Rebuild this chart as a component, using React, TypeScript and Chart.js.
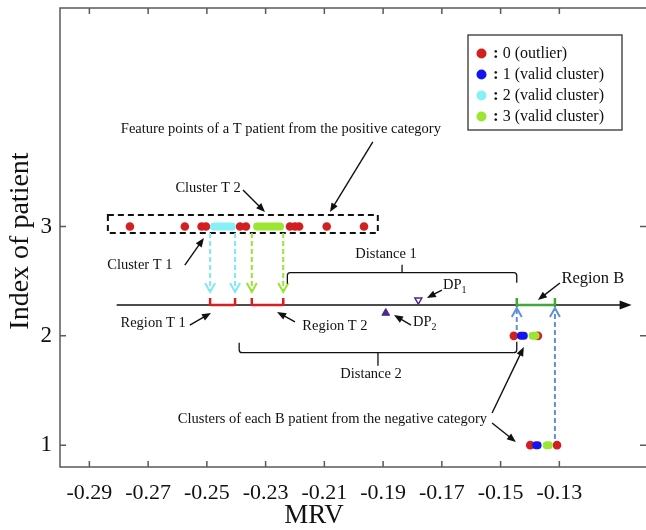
import React, { useEffect, useRef } from "react";
import { Chart, registerables } from "chart.js";

Chart.register(...registerables);

// ---------- axes ----------
const xRange = [-0.3, -0.1005];
const yRange = [0.8, 5];
const xTickValues = [-0.29, -0.27, -0.25, -0.23, -0.21, -0.19, -0.17, -0.15, -0.13];
const xTickLabels = ["-0.29", "-0.27", "-0.25", "-0.23", "-0.21", "-0.19", "-0.17", "-0.15", "-0.13"];
const yTickValues = [1, 2, 3];
const yTickLabels = ["1", "2", "3"];
const xTitle = "MRV";
const yTitle = "Index of patient";

// ---------- legend ----------
const legendLabels = ["0 (outlier)", "1 (valid cluster)", "2 (valid cluster)", "3 (valid cluster)"];
const clusterColors = ["#d21f22", "#1414ee", "#86f0f7", "#9ae632"];

// ---------- patient T (index 3) ----------
const tIndex = 3;
const tOutlierMRV = [-0.2762, -0.2575, -0.2518, -0.2503, -0.2387, -0.2367, -0.2217, -0.22, -0.2186, -0.2092, -0.1965];
const tCluster2MRV = [-0.2476, -0.2415];
const tCluster3MRV = [-0.2329, -0.2251];
const tBoxMRV = [-0.2837, -0.1918];
const tBoxIndex = [2.941, 3.106];

// ---------- B patients (index 2 and 1) ----------
const b2Index = 2;
const b2OutlierMRV = [-0.1455, -0.1373];
const b2Cluster1MRV = [-0.1431, -0.1421];
const b2Cluster3MRV = [-0.1391, -0.1381];
const b1Index = 1;
const b1OutlierMRV = [-0.1399, -0.1308];
const b1Cluster1MRV = [-0.1379, -0.1374];
const b1Cluster3MRV = [-0.1343, -0.1336];

// ---------- projection line, regions, decision points ----------
const projectionY = 2.282;
const projectionLine = [-0.2807, -0.1054];
const regionT1 = [-0.2489, -0.2404];
const regionT2 = [-0.2347, -0.224];
const regionB = [-0.1445, -0.1315];
const dp1 = { x: -0.178, y: 2.328 };
const dp2 = { x: -0.1891, y: 2.209 };
const distance1 = [-0.2226, -0.1445];
const distance1Y = 2.578;
const distance2 = [-0.239, -0.1445];
const distance2Y = 1.846;
const tArrowY = [2.941, 2.401];
const bArrowLeftY = [2.054, 2.255];
const bArrowRightY = [1.056, 2.255];

// ---------- annotation anchors (data units) ----------
const annTexts = [
  { text: "Feature points of a T patient from the positive category", x: -0.2248, y: 3.89, align: "center", size: 14.5 },
  { text: "Cluster T 2", x: -0.2496, y: 3.353, align: "center", size: 14.5 },
  { text: "Cluster T 1", x: -0.2728, y: 2.648, align: "center", size: 14.5 },
  { text: "Region T 1", x: -0.2683, y: 2.118, align: "center", size: 14.5 },
  { text: "Region T 2", x: -0.2064, y: 2.09, align: "center", size: 14.5 },
  { text: "Distance 1", x: -0.189, y: 2.749, align: "center", size: 14.5 },
  { text: "Distance 2", x: -0.1941, y: 1.651, align: "center", size: 14.5 },
  { text: "Region B", x: -0.1186, y: 2.52, align: "center", size: 16.5 },
  { text: "Clusters of each B patient from the negative category", x: -0.1546, y: 1.239, align: "right", size: 14.5 },
];
const annSub = [
  { text: "DP", sub: "1", x: -0.1696, y: 2.465 },
  { text: "DP", sub: "2", x: -0.1798, y: 2.127 },
];
const annArrows = [
  [-0.1935, 3.774, -0.2081, 3.133],
  [-0.2377, 3.335, -0.2302, 3.133],
  [-0.2575, 2.648, -0.251, 2.895],
  [-0.2558, 2.099, -0.2486, 2.209],
  [-0.22, 2.127, -0.2261, 2.218],
  [-0.17, 2.419, -0.1751, 2.346],
  [-0.1805, 2.099, -0.1863, 2.191],
  [-0.1298, 2.484, -0.1373, 2.328],
  [-0.1529, 1.294, -0.1421, 1.898],
  [-0.1529, 1.203, -0.1448, 1.029],
];

const FONT = '"Liberation Serif", "Times New Roman", serif';
const DP_COLOR = "#4b2a8c";
const DASH_BLUE = "#6090d8";
const DASH_CYAN = "#80e8f4";
const DASH_GREEN = "#98e430";
const REGION_RED = "#d42024";
const REGION_GREEN = "#3fa83a";

function pts(xs: number[], yv: number) {
  return xs.map((x) => ({ x, y: yv }));
}

function arrowHead(ctx: CanvasRenderingContext2D, x0: number, y0: number, x1: number, y1: number, len: number, half: number) {
  const a = Math.atan2(y1 - y0, x1 - x0);
  const bx = x1 - len * Math.cos(a);
  const by = y1 - len * Math.sin(a);
  ctx.beginPath();
  ctx.moveTo(x1, y1);
  ctx.lineTo(bx + half * Math.sin(a), by - half * Math.cos(a));
  ctx.lineTo(bx - half * Math.sin(a), by + half * Math.cos(a));
  ctx.closePath();
  ctx.fill();
}

function dashedArrow(ctx: CanvasRenderingContext2D, x: number, y0: number, y1: number, color: string) {
  ctx.save();
  ctx.strokeStyle = color;
  ctx.lineWidth = 2;
  ctx.setLineDash([5, 3]);
  ctx.beginPath();
  ctx.moveTo(x, y0);
  ctx.lineTo(x, y1);
  ctx.stroke();
  ctx.setLineDash([]);
  const d = Math.sign(y1 - y0);
  ctx.beginPath();
  ctx.moveTo(x - 5, y1 - d * 9);
  ctx.lineTo(x, y1);
  ctx.lineTo(x + 5, y1 - d * 9);
  ctx.stroke();
  ctx.restore();
}

const decorPlugin = {
  id: "decor",
  beforeDatasetsDraw(chart: any) {
    const { ctx } = chart;
    const xs = chart.scales.x;
    const ys = chart.scales.y;
    const X = (v: number) => xs.getPixelForValue(v);
    const Y = (v: number) => ys.getPixelForValue(v);
    ctx.save();
    // dashed box around patient T
    ctx.strokeStyle = "#111";
    ctx.lineWidth = 2;
    ctx.setLineDash([6, 4]);
    ctx.strokeRect(X(tBoxMRV[0]), Y(tBoxIndex[1]), X(tBoxMRV[1]) - X(tBoxMRV[0]), Y(tBoxIndex[0]) - Y(tBoxIndex[1]));
    ctx.setLineDash([]);
    // projection line with arrow
    const ly = Y(projectionY);
    ctx.strokeStyle = "#111";
    ctx.fillStyle = "#111";
    ctx.lineWidth = 1.5;
    ctx.beginPath();
    ctx.moveTo(X(projectionLine[0]), ly);
    ctx.lineTo(X(projectionLine[1]) - 8, ly);
    ctx.stroke();
    arrowHead(ctx, X(projectionLine[0]), ly, X(projectionLine[1]), ly, 12, 4.5);
    // dashed projection arrows
    dashedArrow(ctx, X(regionT1[0]), Y(tArrowY[0]), Y(tArrowY[1]), DASH_CYAN);
    dashedArrow(ctx, X(regionT1[1]), Y(tArrowY[0]), Y(tArrowY[1]), DASH_CYAN);
    dashedArrow(ctx, X(regionT2[0]), Y(tArrowY[0]), Y(tArrowY[1]), DASH_GREEN);
    dashedArrow(ctx, X(regionT2[1]), Y(tArrowY[0]), Y(tArrowY[1]), DASH_GREEN);
    dashedArrow(ctx, X(regionB[0]), Y(bArrowLeftY[0]), Y(bArrowLeftY[1]), DASH_BLUE);
    dashedArrow(ctx, X(regionB[1]), Y(bArrowRightY[0]), Y(bArrowRightY[1]), DASH_BLUE);
    // regions
    const region = (r: number[], color: string, down: number) => {
      ctx.strokeStyle = color;
      ctx.lineWidth = 2.5;
      ctx.beginPath();
      ctx.moveTo(X(r[0]), ly);
      ctx.lineTo(X(r[1]), ly);
      ctx.moveTo(X(r[0]), ly - 7);
      ctx.lineTo(X(r[0]), ly + down);
      ctx.moveTo(X(r[1]), ly - 7);
      ctx.lineTo(X(r[1]), ly + down);
      ctx.stroke();
    };
    region(regionT1, REGION_RED, 1);
    region(regionT2, REGION_RED, 1);
    region(regionB, REGION_GREEN, 2);
    ctx.restore();
  },
  afterDatasetsDraw(chart: any) {
    const { ctx, chartArea } = chart;
    const xs = chart.scales.x;
    const ys = chart.scales.y;
    const X = (v: number) => xs.getPixelForValue(v);
    const Y = (v: number) => ys.getPixelForValue(v);
    ctx.save();
    ctx.strokeStyle = "#111";
    ctx.fillStyle = "#111";
    ctx.lineWidth = 1.3;
    // brackets
    const y1 = Y(distance1Y);
    const a1 = X(distance1[0]);
    const b1 = X(distance1[1]);
    const m1 = (a1 + b1) / 2;
    ctx.beginPath();
    ctx.moveTo(a1, y1 + 11);
    ctx.arcTo(a1, y1, a1 + 4, y1, 3);
    ctx.lineTo(b1 - 4, y1);
    ctx.arcTo(b1, y1, b1, y1 + 4, 3);
    ctx.lineTo(b1, y1 + 10);
    ctx.moveTo(m1, y1);
    ctx.lineTo(m1, y1 - 8);
    ctx.stroke();
    const y2 = Y(distance2Y);
    const a2 = X(distance2[0]);
    const b2 = X(distance2[1]);
    const m2 = (a2 + b2) / 2;
    ctx.beginPath();
    ctx.moveTo(a2, y2 - 10);
    ctx.arcTo(a2, y2, a2 + 4, y2, 3);
    ctx.lineTo(b2 - 4, y2);
    ctx.arcTo(b2, y2, b2, y2 - 4, 3);
    ctx.lineTo(b2, y2 - 11);
    ctx.moveTo(m2, y2);
    ctx.lineTo(m2, y2 + 13);
    ctx.stroke();
    // annotation arrows
    ctx.lineWidth = 1.4;
    for (const [x0, yy0, x1, yy1] of annArrows) {
      const px0 = X(x0), py0 = Y(yy0), px1 = X(x1), py1 = Y(yy1);
      const a = Math.atan2(py1 - py0, px1 - px0);
      ctx.beginPath();
      ctx.moveTo(px0, py0);
      ctx.lineTo(px1 - 6 * Math.cos(a), py1 - 6 * Math.sin(a));
      ctx.stroke();
      arrowHead(ctx, px0, py0, px1, py1, 9, 3.6);
    }
    // annotation texts
    ctx.textBaseline = "middle";
    ctx.fillStyle = "#111";
    for (const t of annTexts) {
      ctx.font = `${t.size}px ${FONT}`;
      ctx.textAlign = t.align as CanvasTextAlign;
      ctx.fillText(t.text, X(t.x), Y(t.y));
    }
    for (const t of annSub) {
      ctx.textAlign = "left";
      ctx.font = `14.5px ${FONT}`;
      const px = X(t.x), py = Y(t.y);
      ctx.fillText(t.text, px, py);
      const w = ctx.measureText(t.text).width;
      ctx.font = `10px ${FONT}`;
      ctx.fillText(t.sub, px + w, py + 5);
    }
    // legend
    const bw = 154, bh = 95;
    const bl = chartArea.right - 178;
    const bt = chartArea.top + 27;
    ctx.fillStyle = "#fff";
    ctx.fillRect(bl, bt, bw, bh);
    ctx.strokeStyle = "#333";
    ctx.lineWidth = 1.3;
    ctx.strokeRect(bl, bt, bw, bh);
    ctx.textAlign = "left";
    legendLabels.forEach((lab, i) => {
      const cy = bt + 18.5 + i * 21;
      ctx.fillStyle = clusterColors[i];
      ctx.beginPath();
      ctx.arc(bl + 13.5, cy, 5, 0, Math.PI * 2);
      ctx.fill();
      ctx.fillStyle = "#111";
      ctx.font = `bold 17px ${FONT}`;
      ctx.fillText(":", bl + 25, cy);
      const cw = ctx.measureText(":").width;
      ctx.font = `16px ${FONT}`;
      ctx.fillText(" " + lab, bl + 25 + cw, cy);
    });
    ctx.restore();
  },
  afterDraw(chart: any) {
    const { ctx, chartArea } = chart;
    const xs = chart.scales.x;
    const ys = chart.scales.y;
    const { left, right, top, bottom } = chartArea;
    ctx.save();
    ctx.strokeStyle = "#5a5a5a";
    ctx.lineWidth = 1.5;
    ctx.beginPath();
    ctx.moveTo(right, top);
    ctx.lineTo(left, top);
    ctx.lineTo(left, bottom);
    ctx.lineTo(right, bottom);
    ctx.stroke();
    ctx.beginPath();
    for (const v of xTickValues) {
      const px = xs.getPixelForValue(v);
      ctx.moveTo(px, bottom);
      ctx.lineTo(px, bottom - 6);
      ctx.moveTo(px, top);
      ctx.lineTo(px, top + 6);
    }
    for (const v of yTickValues) {
      const py = ys.getPixelForValue(v);
      ctx.moveTo(left, py);
      ctx.lineTo(left + 6, py);
      ctx.moveTo(right, py);
      ctx.lineTo(right - 6, py);
    }
    ctx.stroke();
    // axis titles
    ctx.fillStyle = "#111";
    ctx.textAlign = "center";
    ctx.textBaseline = "middle";
    ctx.font = `27px ${FONT}`;
    ctx.fillText(xTitle, left + 254, bottom + 49);
    ctx.save();
    ctx.translate(21, top + 233);
    ctx.rotate(-Math.PI / 2);
    ctx.font = `28px ${FONT}`;
    ctx.fillText(yTitle, 0, 0);
    ctx.restore();
    ctx.restore();
  },
};

export default function App() {
  const ref = useRef<HTMLCanvasElement | null>(null);
  useEffect(() => {
    if (!ref.current) return;
    const seg = (xs: number[], yv: number, color: string) => ({
      type: "line" as const,
      data: pts(xs, yv),
      borderColor: color,
      backgroundColor: color,
      borderWidth: 8,
      borderCapStyle: "round" as const,
      pointRadius: 0,
      showLine: true,
      fill: false,
      order: 1,
    });
    const dots = (xs: number[], yv: number) => ({
      type: "scatter" as const,
      data: pts(xs, yv),
      backgroundColor: clusterColors[0],
      borderWidth: 0,
      pointRadius: 4.3,
      order: 2,
    });
    const noPad = (s: any) => {
      s.paddingTop = 0;
      s.paddingBottom = 0;
      s.paddingLeft = 0;
      s.paddingRight = 0;
    };
    const chart = new Chart(ref.current, {
      type: "scatter",
      data: {
        datasets: [
          dots(tOutlierMRV, tIndex),
          seg(tCluster2MRV, tIndex, clusterColors[2]),
          seg(tCluster3MRV, tIndex, clusterColors[3]),
          dots(b2OutlierMRV, b2Index),
          seg(b2Cluster1MRV, b2Index, clusterColors[1]),
          seg(b2Cluster3MRV, b2Index, clusterColors[3]),
          dots(b1OutlierMRV, b1Index),
          seg(b1Cluster1MRV, b1Index, clusterColors[1]),
          seg(b1Cluster3MRV, b1Index, clusterColors[3]),
          {
            type: "scatter",
            data: [dp1],
            pointStyle: "triangle",
            rotation: 180,
            pointRadius: 4,
            backgroundColor: "#ffffff",
            borderColor: DP_COLOR,
            borderWidth: 1.5,
            order: 0,
          },
          {
            type: "scatter",
            data: [dp2],
            pointStyle: "triangle",
            pointRadius: 4.5,
            backgroundColor: DP_COLOR,
            borderColor: DP_COLOR,
            borderWidth: 1,
            order: 0,
          },
        ] as any,
      },
      options: {
        animation: false,
        responsive: false,
        maintainAspectRatio: false,
        devicePixelRatio: 1,
        layout: { autoPadding: false, padding: { top: 8, right: 0, left: 0, bottom: 0 } },
        plugins: { legend: { display: false }, tooltip: { enabled: false } },
        scales: {
          x: {
            type: "linear",
            min: xRange[0],
            max: xRange[1],
            grid: { display: false, drawTicks: false },
            border: { display: false },
            afterBuildTicks: (s: any) => {
              s.ticks = xTickValues.map((v) => ({ value: v }));
            },
            afterFit: (s: any) => {
              s.height = 63;
              noPad(s);
            },
            ticks: {
              autoSkip: false,
              maxRotation: 0,
              padding: 13,
              color: "#111",
              font: { family: FONT, size: 22 },
              callback: (_v: any, i: number) => xTickLabels[i],
            },
          },
          y: {
            type: "linear",
            min: yRange[0],
            max: yRange[1],
            grid: { display: false, drawTicks: false },
            border: { display: false },
            afterBuildTicks: (s: any) => {
              s.ticks = yTickValues.map((v) => ({ value: v }));
            },
            afterFit: (s: any) => {
              s.width = 60;
              noPad(s);
            },
            ticks: {
              autoSkip: false,
              padding: 8,
              color: "#111",
              font: { family: FONT, size: 23 },
              callback: (_v: any, i: number) => yTickLabels[i],
            },
          },
        },
      },
      plugins: [decorPlugin],
    });
    return () => chart.destroy();
  }, []);
  return (
    <div style={{ position: "fixed", left: 0, top: 0, width: 646, height: 530, background: "#fff" }}>
      <canvas ref={ref} width={646} height={530} style={{ width: 646, height: 530 }} />
    </div>
  );
}
